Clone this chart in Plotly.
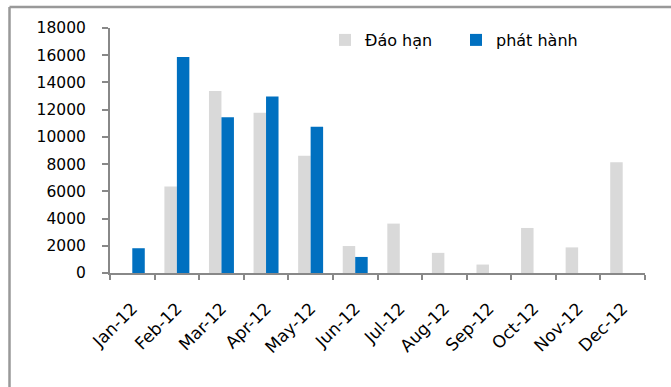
import plotly.graph_objects as go

months = ["Jan-12", "Feb-12", "Mar-12", "Apr-12", "May-12", "Jun-12",
          "Jul-12", "Aug-12", "Sep-12", "Oct-12", "Nov-12", "Dec-12"]
dao_han = [0, 6350, 13380, 11770, 8620, 1980, 3630, 1480, 620, 3310, 1880, 8140]
phat_hanh = [1820, 15870, 11440, 12960, 10740, 1180, None, None, None, None, None, None]
y_ticks = [0, 2000, 4000, 6000, 8000, 10000, 12000, 14000, 16000, 18000]
y_tick_text = ["0", "2000", "4000", "6000", "8000", "10000", "12000", "14000", "16000", "18000"]

W, H = 671, 387
L, R, T, B = 110, 26, 28, 114
pw, ph = W - L - R, H - T - B

font = "DejaVu Sans"

fig = go.Figure()
fig.add_trace(go.Bar(x=months, y=dao_han, name="Đáo hạn",
                     marker=dict(color="#d9d9d9", line=dict(width=0))))
fig.add_trace(go.Bar(x=months, y=phat_hanh, name="phát hành",
                     marker=dict(color="#0070c0", line=dict(width=0))))

fig.update_layout(
    width=W, height=H,
    margin=dict(l=L, r=R, t=T, b=B, pad=0),
    paper_bgcolor="white", plot_bgcolor="white",
    barmode="group", bargap=0.44, bargroupgap=0,
    font=dict(family=font, size=15, color="#000000"),
    showlegend=True,
    legend=dict(orientation="h", x=(325 - L) / pw, y=1 - (40 - T) / ph,
                xanchor="left", yanchor="middle",
                font=dict(family=font, size=16, color="#000000"),
                entrywidth=86, entrywidthmode="pixels",
                bgcolor="rgba(0,0,0,0)", itemclick=False),
    xaxis=dict(showline=True, linecolor="#888888", linewidth=2,
               ticks="outside", tickcolor="#888888", ticklen=5, tickwidth=1.5,
               tickson="boundaries", tickangle=-45, ticklabelstandoff=17,
               tickfont=dict(family=font, size=17, color="#000000"),
               showgrid=False, zeroline=False),
    yaxis=dict(range=[0, 18000], tickvals=y_ticks, ticktext=y_tick_text,
               tickmode="array",
               showline=True, linecolor="#888888", linewidth=2,
               ticks="outside", tickcolor="#888888", ticklen=6, tickwidth=1.5,
               ticklabelstandoff=13,
               tickfont=dict(family=font, size=15.5, color="#000000"),
               showgrid=False, zeroline=False),
    shapes=[
        dict(type="line", xref="paper", yref="paper",
             x0=(9.5 - L) / pw, x1=(W + 5 - L) / pw,
             y0=1 + (T - 7) / ph, y1=1 + (T - 7) / ph,
             line=dict(color="#999999", width=2.5)),
        dict(type="line", xref="paper", yref="paper",
             x0=(9.5 - L) / pw, x1=(9.5 - L) / pw,
             y0=1 + (T - 7) / ph, y1=-(B + 5) / ph,
             line=dict(color="#999999", width=2.5)),
    ],
)

fig.write_html("out.html")
